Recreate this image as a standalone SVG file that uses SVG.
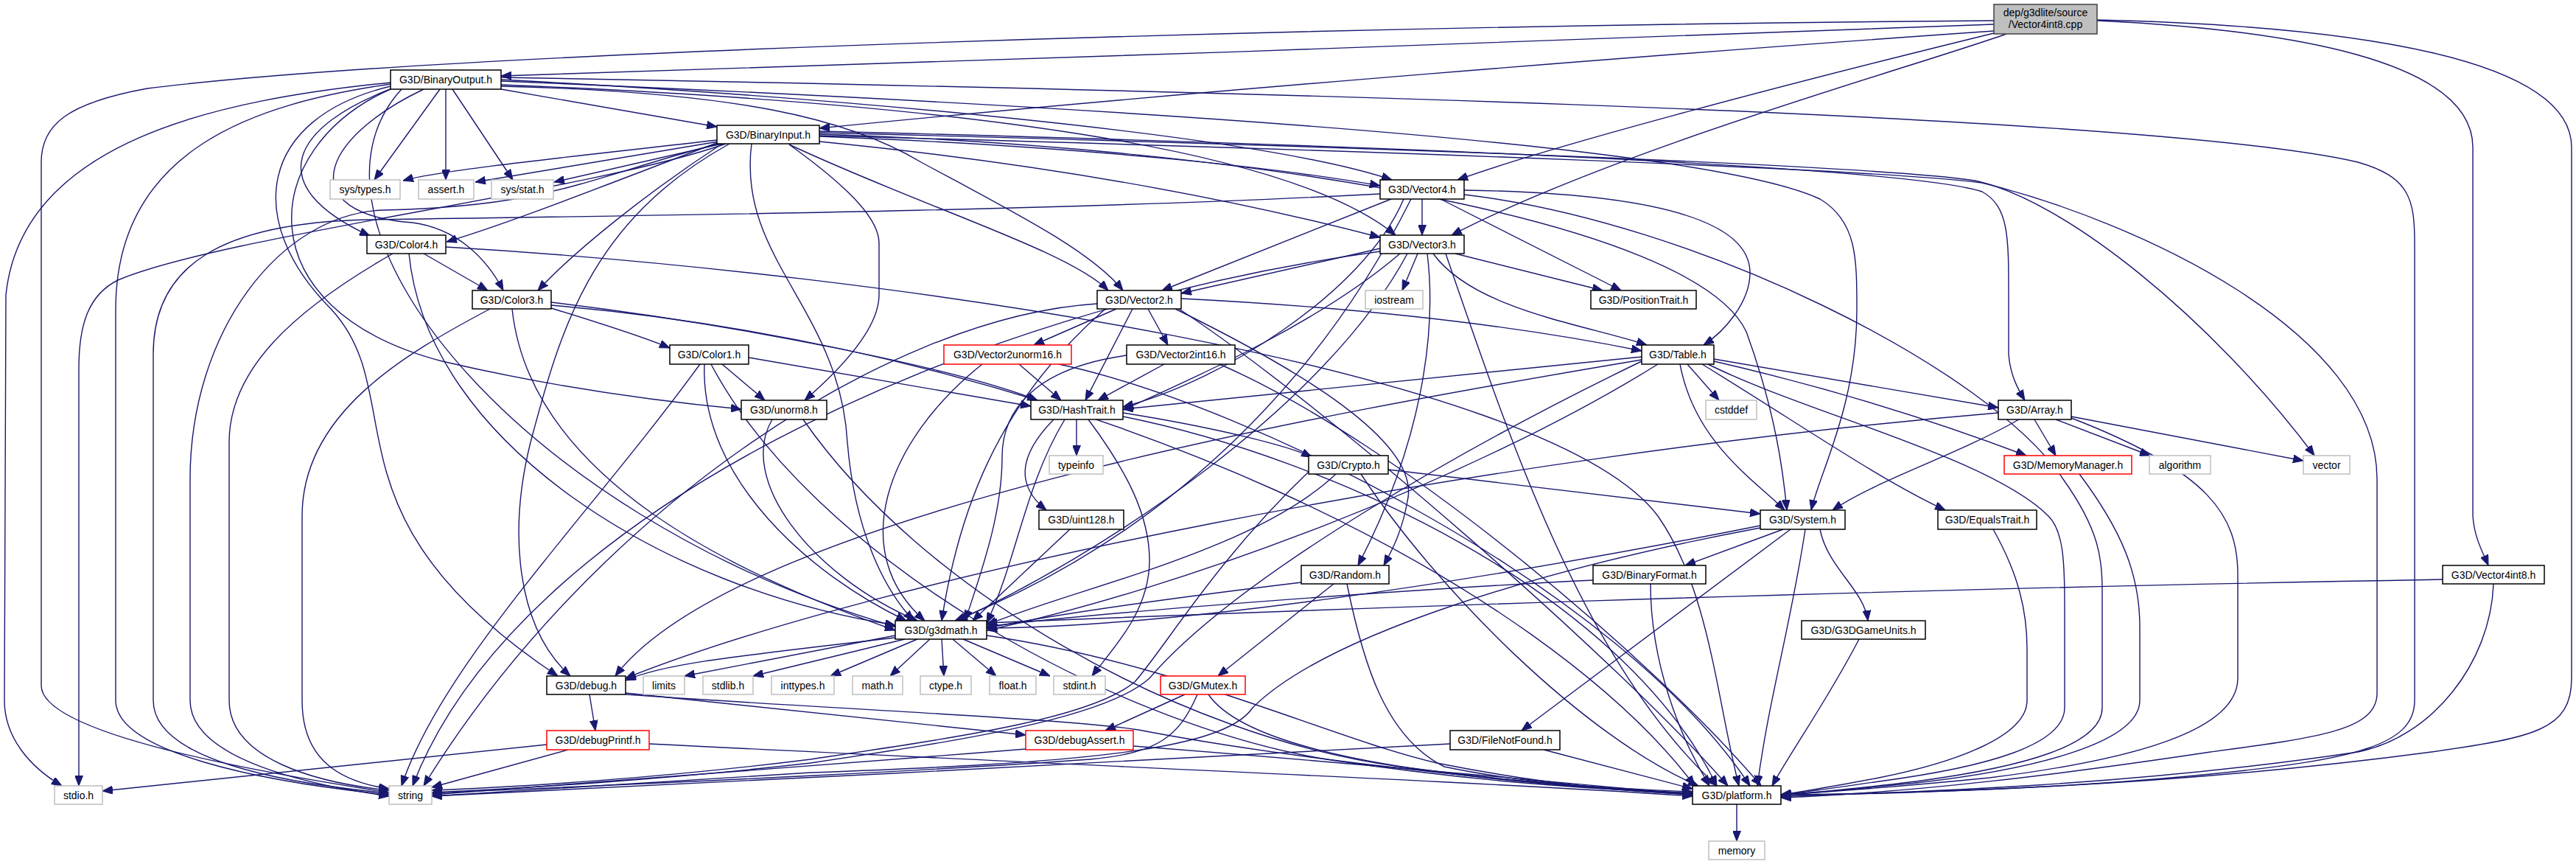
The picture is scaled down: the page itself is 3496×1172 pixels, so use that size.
<svg xmlns="http://www.w3.org/2000/svg" width="3496" height="1172" viewBox="0 0 3496 1172">
<style>
.node rect{fill:#fff;stroke:#000;stroke-width:1.5}
.node.ext rect{stroke:#bfbfbf}
.node.red rect{stroke:#ff0000}
.node.root rect{fill:#bfbfbf;stroke:#404040}
.node text{font-family:"Liberation Sans",Arial,sans-serif;font-size:14px;text-anchor:middle;fill:#000}
.edges path{fill:none;stroke:#191970;stroke-width:1.4;marker-end:url(#ah)}
</style>
<defs>
<marker id="ah" viewBox="0 0 14 11" refX="14" refY="5.5" markerWidth="14" markerHeight="11" markerUnits="userSpaceOnUse" orient="auto">
<path d="M0,0 L14,5.5 L0,11 z" fill="#191970" stroke="#191970"/>
</marker>
</defs>
<rect x="0" y="0" width="3496" height="1172" fill="#fff"/>
<g class="edges">
<path d="M2706,33 C2200,50 1200,90 680,103"/>
<path d="M2706,42 C2300,70 1600,125 1112,174"/>
<path d="M2706,45 C2400,120 2100,200 1978,244"/>
<path d="M2723,46 C2600,90 2200,200 1970,319"/>
<path d="M2706,28 C1800,35 600,70 200,120 C90,140 56,170 56,220 L56,930 C56,990 300,1040 528,1075"/>
<path d="M2846,28 C3100,40 3356,80 3356,200 L3356,700 C3358,730 3370,750 3377,767"/>
<path d="M2846,27 C3200,35 3490,80 3490,200 L3490,920 C3490,990 3440,1000 3300,1020 C3000,1060 2700,1075 2417,1078"/>
<path d="M680,121 L973,172"/>
<path d="M597,121 L508,244"/>
<path d="M605,121 L605,244"/>
<path d="M614,121 L696,244"/>
<path d="M530,112 C300,135 30,190 8,400 L6,950 C6,1000 40,1040 84,1066"/>
<path d="M530,114 C350,140 157,200 157,420 L157,950 C157,1020 350,1060 528,1078"/>
<path d="M532,120 C400,170 350,250 502,320"/>
<path d="M575,121 C430,190 400,290 560,302 C620,310 660,350 683,394"/>
<path d="M530,121 C350,200 330,420 600,490 C750,525 900,545 1006,555"/>
<path d="M545,121 C380,300 700,700 1215,850"/>
<path d="M530,117 C350,160 330,300 450,420 C560,540 430,700 757,917"/>
<path d="M680,108 C1100,130 1700,180 1889,244"/>
<path d="M680,115 C1300,140 1750,200 1894,319"/>
<path d="M680,117 C1000,125 1150,160 1250,220 C1380,290 1480,340 1524,394"/>
<path d="M680,110 C1400,140 2300,190 2470,270 C2520,300 2520,350 2520,420 C2520,550 2470,640 2458,692"/>
<path d="M680,105 C1500,120 2900,150 3200,220 C3270,240 3277,270 3277,330 L3277,950 C3277,1010 3200,1030 3000,1050 C2800,1070 2600,1075 2417,1080"/>
<path d="M973,190 C800,210 600,230 547,245"/>
<path d="M975,192 L645,247"/>
<path d="M980,195 L752,247"/>
<path d="M985,195 C800,260 300,320 160,380 C120,400 107,440 107,500 L107,1066"/>
<path d="M975,195 C800,240 750,280 520,285 C380,290 258,450 258,650 L258,950 C258,1030 420,1065 528,1080"/>
<path d="M975,193 C850,240 700,300 606,328"/>
<path d="M980,195 C880,260 780,340 730,394"/>
<path d="M1071,196 C1160,260 1193,300 1193,330 L1193,400 C1193,450 1130,510 1092,543"/>
<path d="M1112,185 C1500,200 1750,230 1873,252"/>
<path d="M1112,192 C1500,230 1750,290 1873,322"/>
<path d="M1071,196 C1250,280 1450,340 1504,394"/>
<path d="M1020,195 C1000,350 1140,420 1150,600 C1160,720 1200,800 1240,842"/>
<path d="M990,195 C800,300 760,450 720,600 C690,720 700,850 774,917"/>
<path d="M1112,182 C1700,200 2300,300 2370,450 C2410,560 2420,640 2425,692"/>
<path d="M1112,178 C2000,200 2600,230 2690,260 C2726,280 2726,320 2726,400 L2726,480 C2728,510 2740,530 2748,543"/>
<path d="M1112,180 C1900,200 2550,225 2680,245 C2800,270 3000,430 3141,618"/>
<path d="M1112,184 C1900,205 2550,230 2690,248 C2900,300 3226,450 3226,650 L3226,940 C3226,990 3150,1000 3000,1020 C2800,1050 2600,1075 2417,1082"/>
<path d="M1930,270 L1930,319"/>
<path d="M1888,270 L1577,394"/>
<path d="M1955,270 L2200,394"/>
<path d="M1873,263 C1400,288 800,293 500,298 C300,302 208,360 208,480 L208,950 C208,1030 380,1062 528,1076"/>
<path d="M1915,270 C1800,500 1600,720 1296,842"/>
<path d="M1987,258 C2250,262 2375,300 2375,370 C2375,410 2340,450 2312,468"/>
<path d="M1905,270 C1850,400 1650,520 1524,552"/>
<path d="M1987,264 C2300,300 2700,500 2800,650 C2850,720 2853,760 2853,800 L2853,960 C2853,1010 2750,1040 2600,1060 C2500,1072 2450,1076 2417,1078"/>
<path d="M1873,337 L1603,398"/>
<path d="M1924,344 L1903,394"/>
<path d="M1975,344 L2175,394"/>
<path d="M1873,341 C1300,420 700,700 560,1066"/>
<path d="M1910,344 C1800,550 1500,750 1299,842"/>
<path d="M1937,344 C1950,450 1930,600 1843,767"/>
<path d="M1945,344 C2000,420 2150,440 2235,468"/>
<path d="M1900,344 C1800,430 1650,500 1524,556"/>
<path d="M1962,344 C2050,600 2150,900 2330,1066"/>
<path d="M1515,419 L1403,468"/>
<path d="M1558,419 L1585,468"/>
<path d="M1537,419 L1473,543"/>
<path d="M1603,405 C1900,420 2100,450 2228,476"/>
<path d="M1595,419 C1760,500 1930,600 1910,680 C1903,720 1890,745 1878,767"/>
<path d="M1500,419 C1350,550 1300,700 1278,842"/>
<path d="M1489,412 C1200,430 800,700 575,1066"/>
<path d="M1600,419 C1800,550 2200,900 2345,1066"/>
<path d="M575,344 L662,394"/>
<path d="M533,344 C400,420 311,500 311,600 L311,950 C311,1030 430,1062 528,1072"/>
<path d="M555,344 C580,600 900,800 1215,848"/>
<path d="M605,335 C1200,370 2100,500 2250,700 C2320,800 2330,950 2360,1066"/>
<path d="M748,418 C820,440 880,460 909,472"/>
<path d="M748,410 C1000,440 1300,500 1408,543"/>
<path d="M665,419 C550,480 410,560 410,700 L410,950 C410,1030 460,1060 528,1070"/>
<path d="M695,419 C720,650 1000,780 1215,855"/>
<path d="M748,414 C1500,480 2100,800 2300,1066"/>
<path d="M980,494 L1038,543"/>
<path d="M1016,485 L1399,551"/>
<path d="M950,494 C800,700 600,900 545,1066"/>
<path d="M956,494 C950,650 1100,780 1230,842"/>
<path d="M965,494 C1100,750 1500,980 1800,1030 C2000,1060 2150,1070 2297,1076"/>
<path d="M1048,569 C1000,650 1100,780 1245,842"/>
<path d="M1090,569 C1250,800 1600,1000 1900,1040 C2050,1060 2200,1072 2297,1078"/>
<path d="M1383,494 L1440,543"/>
<path d="M1333,494 C1200,600 1150,750 1255,842"/>
<path d="M1437,494 C1700,550 2200,800 2375,1066"/>
<path d="M1580,494 L1490,543"/>
<path d="M1529,482 C1400,500 1360,560 1360,620 C1360,700 1330,780 1310,842"/>
<path d="M1655,494 C1900,600 2250,900 2390,1066"/>
<path d="M1461,569 L1461,618"/>
<path d="M1430,569 C1380,620 1380,660 1420,692"/>
<path d="M1445,569 C1390,660 1380,760 1339,845"/>
<path d="M1477,569 C1530,640 1560,700 1560,760 C1560,830 1510,880 1482,917"/>
<path d="M1524,560 C1650,580 1750,605 1780,620"/>
<path d="M1524,565 C1800,620 2200,800 2330,1066"/>
<path d="M2290,494 L2333,543"/>
<path d="M2326,487 L2712,553"/>
<path d="M2280,494 C2300,600 2380,650 2422,692"/>
<path d="M2310,494 C2450,580 2550,650 2640,692"/>
<path d="M2326,490 C2500,530 2650,580 2750,618"/>
<path d="M2228,484 L1524,555"/>
<path d="M2228,490 C2000,600 1680,780 1560,920 C1500,975 1300,1005 1100,1035 C900,1058 700,1070 586,1075"/>
<path d="M2228,488 C1800,560 1000,700 835,917"/>
<path d="M2250,494 C2000,650 1600,800 1339,855"/>
<path d="M2318,494 C2450,560 2700,620 2780,700 C2800,720 2802,760 2802,820 L2802,960 C2802,1010 2700,1040 2550,1060 C2480,1070 2440,1076 2417,1078"/>
<path d="M2761,569 L2790,618"/>
<path d="M2790,569 L2918,618"/>
<path d="M2811,565 L3126,625"/>
<path d="M2712,560 C2000,620 1200,780 849,920"/>
<path d="M2740,569 C2650,620 2550,650 2487,692"/>
<path d="M2811,567 C3000,640 3037,700 3037,780 L3037,920 C3037,990 2900,1030 2700,1055 C2550,1070 2450,1076 2417,1078"/>
<path d="M1884,637 L2389,697"/>
<path d="M1776,640 C1650,760 1580,880 1540,925 C1480,975 1300,1000 1100,1030 C900,1055 700,1068 586,1072"/>
<path d="M1813,643 C1700,750 1450,800 1339,848"/>
<path d="M1847,643 C1950,800 2150,1000 2305,1066"/>
<path d="M2822,643 C2880,720 2904,780 2904,850 L2904,950 C2904,1010 2750,1045 2600,1062 C2500,1072 2450,1077 2417,1078"/>
<path d="M1452,718 L1320,842"/>
<path d="M2420,718 L2287,767"/>
<path d="M2470,718 C2480,770 2530,800 2535,842"/>
<path d="M2430,718 L2065,991"/>
<path d="M2389,713 C2000,790 1600,850 1339,852"/>
<path d="M2389,716 C2100,770 1800,860 1700,960 C1660,1020 1450,1035 1100,1048 C900,1060 700,1072 586,1080"/>
<path d="M2450,718 C2430,850 2400,950 2385,1066"/>
<path d="M2705,718 C2740,780 2751,830 2751,880 L2751,950 C2751,1000 2650,1035 2550,1055 C2480,1068 2440,1075 2417,1078"/>
<path d="M1810,792 L1653,917"/>
<path d="M1766,790 C1600,810 1450,830 1339,852"/>
<path d="M1828,792 C1850,900 1880,1000 1960,1040 C2080,1065 2200,1070 2297,1074"/>
<path d="M2162,787 C1900,800 1500,830 1339,850"/>
<path d="M2240,792 C2240,900 2280,1000 2320,1066"/>
<path d="M3315,786 C2500,800 1700,830 1339,845"/>
<path d="M3384,792 C3380,900 3300,1000 3200,1020 C2900,1065 2600,1075 2417,1080"/>
<path d="M1215,862 L929,917"/>
<path d="M1228,867 L1022,917"/>
<path d="M1245,867 L1127,917"/>
<path d="M1262,867 L1208,917"/>
<path d="M1278,867 L1281,917"/>
<path d="M1293,867 L1352,917"/>
<path d="M1307,867 L1425,917"/>
<path d="M1215,865 C1000,890 900,900 849,923"/>
<path d="M1339,862 C1600,900 1800,1000 1950,1035 C2100,1065 2200,1072 2297,1077"/>
<path d="M2523,867 C2480,950 2430,1020 2405,1066"/>
<path d="M800,942 L808,991"/>
<path d="M849,940 L1392,997"/>
<path d="M849,942 C1100,960 1450,975 1545,990 C1700,1020 2000,1060 2297,1076"/>
<path d="M1608,942 L1500,991"/>
<path d="M1625,942 C1600,1000 1570,1022 1480,1030 C1200,1050 800,1066 586,1076"/>
<path d="M1640,942 C1700,1030 2000,1060 2297,1078"/>
<path d="M742,1010 L139,1073"/>
<path d="M771,1017 L586,1068"/>
<path d="M881,1009 C1500,1040 2000,1060 2297,1080"/>
<path d="M1392,1016 C1100,1040 800,1060 586,1078"/>
<path d="M1538,1012 C1900,1040 2100,1060 2297,1078"/>
<path d="M1968,1009 C1600,1030 1000,1060 586,1080"/>
<path d="M2095,1017 L2297,1070"/>
<path d="M2357,1091 L2357,1141"/>
</g>
<g id="n_root" class="node root"><rect x="2706" y="6" width="140" height="40"/><text x="2776" y="22">dep/g3dlite/source</text><text x="2776" y="38">/Vector4int8.cpp</text></g>
<g id="n_BinaryOutput" class="node"><rect x="530" y="95" width="150" height="26"/><text x="605" y="113">G3D/BinaryOutput.h</text></g>
<g id="n_BinaryInput" class="node"><rect x="973" y="170" width="139" height="25"/><text x="1042.5" y="187.5">G3D/BinaryInput.h</text></g>
<g id="n_systypes" class="node ext"><rect x="448" y="244" width="95" height="26"/><text x="495.5" y="262">sys/types.h</text></g>
<g id="n_assert" class="node ext"><rect x="568" y="244" width="75" height="26"/><text x="605.5" y="262">assert.h</text></g>
<g id="n_sysstat" class="node ext"><rect x="667" y="244" width="84" height="26"/><text x="709" y="262">sys/stat.h</text></g>
<g id="n_Vector4" class="node"><rect x="1873" y="244" width="114" height="26"/><text x="1930" y="262">G3D/Vector4.h</text></g>
<g id="n_Color4" class="node"><rect x="498" y="319" width="107" height="25"/><text x="551.5" y="336.5">G3D/Color4.h</text></g>
<g id="n_Vector3" class="node"><rect x="1873" y="319" width="114" height="25"/><text x="1930" y="336.5">G3D/Vector3.h</text></g>
<g id="n_Color3" class="node"><rect x="641" y="394" width="107" height="25"/><text x="694.5" y="411.5">G3D/Color3.h</text></g>
<g id="n_Vector2" class="node"><rect x="1489" y="394" width="114" height="25"/><text x="1546" y="411.5">G3D/Vector2.h</text></g>
<g id="n_iostream" class="node ext"><rect x="1853" y="394" width="78" height="25"/><text x="1892" y="411.5">iostream</text></g>
<g id="n_PositionTrait" class="node"><rect x="2159" y="394" width="143" height="25"/><text x="2230.5" y="411.5">G3D/PositionTrait.h</text></g>
<g id="n_Color1" class="node"><rect x="909" y="468" width="107" height="26"/><text x="962.5" y="486">G3D/Color1.h</text></g>
<g id="n_Vector2unorm16" class="node red"><rect x="1281" y="468" width="173" height="26"/><text x="1367.5" y="486">G3D/Vector2unorm16.h</text></g>
<g id="n_Vector2int16" class="node"><rect x="1529" y="468" width="147" height="26"/><text x="1602.5" y="486">G3D/Vector2int16.h</text></g>
<g id="n_Table" class="node"><rect x="2228" y="468" width="98" height="26"/><text x="2277" y="486">G3D/Table.h</text></g>
<g id="n_unorm8" class="node"><rect x="1006" y="543" width="116" height="26"/><text x="1064" y="561">G3D/unorm8.h</text></g>
<g id="n_HashTrait" class="node"><rect x="1399" y="543" width="125" height="26"/><text x="1461.5" y="561">G3D/HashTrait.h</text></g>
<g id="n_cstddef" class="node ext"><rect x="2315" y="543" width="69" height="26"/><text x="2349.5" y="561">cstddef</text></g>
<g id="n_Array" class="node"><rect x="2712" y="543" width="99" height="26"/><text x="2761.5" y="561">G3D/Array.h</text></g>
<g id="n_typeinfo" class="node ext"><rect x="1424" y="618" width="73" height="25"/><text x="1460.5" y="635.5">typeinfo</text></g>
<g id="n_Crypto" class="node"><rect x="1776" y="618" width="108" height="25"/><text x="1830" y="635.5">G3D/Crypto.h</text></g>
<g id="n_MemoryManager" class="node red"><rect x="2720" y="618" width="173" height="25"/><text x="2806.5" y="635.5">G3D/MemoryManager.h</text></g>
<g id="n_algorithm" class="node ext"><rect x="2917" y="618" width="83" height="25"/><text x="2958.5" y="635.5">algorithm</text></g>
<g id="n_vector" class="node ext"><rect x="3126" y="618" width="63" height="25"/><text x="3157.5" y="635.5">vector</text></g>
<g id="n_uint128" class="node"><rect x="1410" y="692" width="115" height="26"/><text x="1467.5" y="710">G3D/uint128.h</text></g>
<g id="n_System" class="node"><rect x="2389" y="692" width="115" height="26"/><text x="2446.5" y="710">G3D/System.h</text></g>
<g id="n_EqualsTrait" class="node"><rect x="2630" y="692" width="134" height="26"/><text x="2697" y="710">G3D/EqualsTrait.h</text></g>
<g id="n_Random" class="node"><rect x="1766" y="767" width="119" height="25"/><text x="1825.5" y="784.5">G3D/Random.h</text></g>
<g id="n_BinaryFormat" class="node"><rect x="2162" y="767" width="153" height="25"/><text x="2238.5" y="784.5">G3D/BinaryFormat.h</text></g>
<g id="n_Vector4int8" class="node"><rect x="3315" y="767" width="138" height="25"/><text x="3384" y="784.5">G3D/Vector4int8.h</text></g>
<g id="n_g3dmath" class="node"><rect x="1215" y="842" width="124" height="25"/><text x="1277" y="859.5">G3D/g3dmath.h</text></g>
<g id="n_G3DGameUnits" class="node"><rect x="2445" y="842" width="168" height="25"/><text x="2529" y="859.5">G3D/G3DGameUnits.h</text></g>
<g id="n_debug" class="node"><rect x="742" y="917" width="107" height="25"/><text x="795.5" y="934.5">G3D/debug.h</text></g>
<g id="n_limits" class="node ext"><rect x="873" y="917" width="56" height="25"/><text x="901" y="934.5">limits</text></g>
<g id="n_stdlib" class="node ext"><rect x="954" y="917" width="68" height="25"/><text x="988" y="934.5">stdlib.h</text></g>
<g id="n_inttypes" class="node ext"><rect x="1047" y="917" width="85" height="25"/><text x="1089.5" y="934.5">inttypes.h</text></g>
<g id="n_math" class="node ext"><rect x="1157" y="917" width="68" height="25"/><text x="1191" y="934.5">math.h</text></g>
<g id="n_ctype" class="node ext"><rect x="1249" y="917" width="69" height="25"/><text x="1283.5" y="934.5">ctype.h</text></g>
<g id="n_float" class="node ext"><rect x="1343" y="917" width="63" height="25"/><text x="1374.5" y="934.5">float.h</text></g>
<g id="n_stdint" class="node ext"><rect x="1430" y="917" width="70" height="25"/><text x="1465" y="934.5">stdint.h</text></g>
<g id="n_GMutex" class="node red"><rect x="1575" y="917" width="115" height="25"/><text x="1632.5" y="934.5">G3D/GMutex.h</text></g>
<g id="n_debugPrintf" class="node red"><rect x="742" y="991" width="139" height="26"/><text x="811.5" y="1009">G3D/debugPrintf.h</text></g>
<g id="n_debugAssert" class="node red"><rect x="1392" y="991" width="146" height="26"/><text x="1465" y="1009">G3D/debugAssert.h</text></g>
<g id="n_FileNotFound" class="node"><rect x="1968" y="991" width="149" height="26"/><text x="2042.5" y="1009">G3D/FileNotFound.h</text></g>
<g id="n_stdio" class="node ext"><rect x="74" y="1066" width="65" height="25"/><text x="106.5" y="1083.5">stdio.h</text></g>
<g id="n_string" class="node ext"><rect x="528" y="1066" width="58" height="25"/><text x="557" y="1083.5">string</text></g>
<g id="n_platform" class="node"><rect x="2297" y="1066" width="120" height="25"/><text x="2357" y="1083.5">G3D/platform.h</text></g>
<g id="n_memory" class="node ext"><rect x="2319" y="1141" width="76" height="25"/><text x="2357" y="1158.5">memory</text></g>
</svg>
